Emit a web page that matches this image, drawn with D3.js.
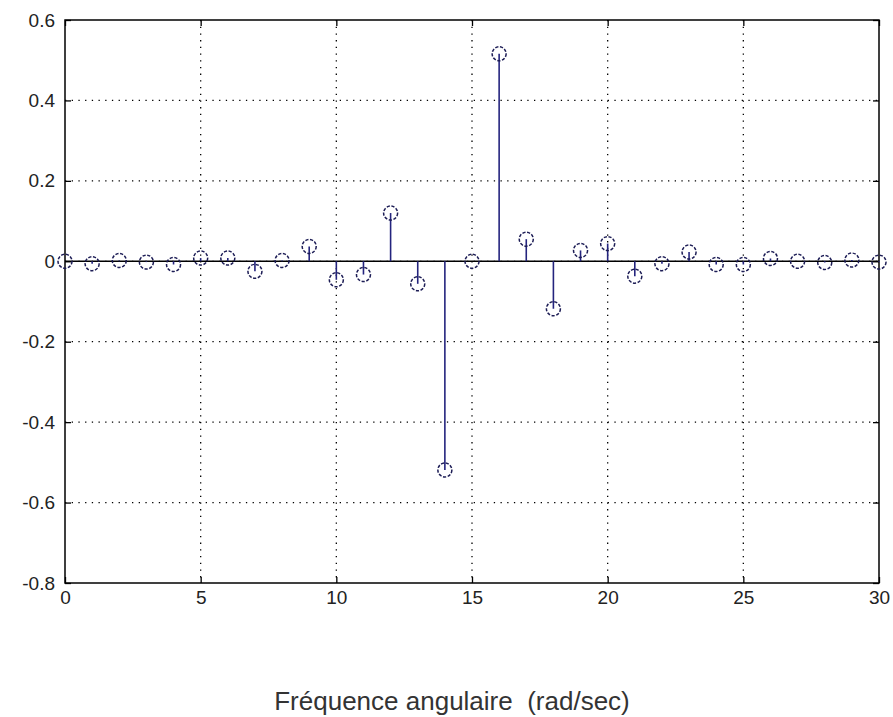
<!DOCTYPE html>
<html>
<head>
<meta charset="utf-8">
<script src="https://cdn.jsdelivr.net/npm/d3@7"></script>
<style>
  html, body { margin: 0; padding: 0; background: #fff; }
  svg { display: block; }
</style>
</head>
<body>
<div id="chart"></div>
<script>
// Données (stem, n = 0..30)
const frequences = d3.range(0, 31);
const amplitudes = [
  0.000, -0.006, 0.002, -0.002, -0.008, 0.008, 0.008, -0.025, 0.002, 0.037,
  -0.046, -0.033, 0.120, -0.056, -0.519, 0.000, 0.516, 0.055, -0.118, 0.027,
  0.044, -0.037, -0.006, 0.023, -0.008, -0.008, 0.007, 0.000, -0.003, 0.003,
  -0.002
];
const xTicks = [0, 5, 10, 15, 20, 25, 30];
const yTicks = [0.6, 0.4, 0.2, 0, -0.2, -0.4, -0.6, -0.8];
const xLabel = "Fréquence angulaire  (rad/sec)";

// --- Dimensions ---
const width = 893, height = 717;
const margin = { top: 20, right: 14, bottom: 134, left: 65 };
const plotW = width - margin.left - margin.right;
const plotH = height - margin.top - margin.bottom;

const x = d3.scaleLinear().domain([0, 30]).range([0, plotW]);
const y = d3.scaleLinear().domain([-0.8, 0.6]).range([plotH, 0]);

const svg = d3.select("#chart").append("svg")
  .attr("width", width)
  .attr("height", height);

const g = svg.append("g")
  .attr("transform", `translate(${margin.left},${margin.top})`);

// --- Grille pointillée ---
g.selectAll(".vgrid")
  .data(xTicks.filter(d => d > 0 && d < 30))
  .enter().append("line")
  .attr("x1", d => x(d)).attr("x2", d => x(d))
  .attr("y1", 0).attr("y2", plotH)
  .attr("stroke", "#000")
  .attr("stroke-width", 1.3)
  .attr("stroke-dasharray", "1.3,5.4");

g.selectAll(".hgrid")
  .data(yTicks.filter(d => d < 0.6 && d > -0.8))
  .enter().append("line")
  .attr("x1", 0).attr("x2", plotW)
  .attr("y1", d => y(d)).attr("y2", d => y(d))
  .attr("stroke", "#000")
  .attr("stroke-width", 1.3)
  .attr("stroke-dasharray", "1.3,5.4");

// --- Axes (ticks intérieurs, style MATLAB) ---
const tickLen = 6;
const axisFont = "'Liberation Sans', Arial, sans-serif";

const xAxisB = g.append("g")
  .attr("transform", `translate(0,${plotH})`)
  .call(d3.axisBottom(x).tickValues(xTicks).tickSizeInner(-tickLen).tickSizeOuter(0).tickPadding(11));
const xAxisT = g.append("g")
  .call(d3.axisTop(x).tickValues(xTicks).tickSizeInner(-tickLen).tickSizeOuter(0).tickFormat(""));
const yAxisL = g.append("g")
  .call(d3.axisLeft(y).tickValues(yTicks).tickSizeInner(-tickLen).tickSizeOuter(0).tickPadding(10)
    .tickFormat(d => String(+d.toFixed(1))));
const yAxisR = g.append("g")
  .attr("transform", `translate(${plotW},0)`)
  .call(d3.axisRight(y).tickValues(yTicks).tickSizeInner(-tickLen).tickSizeOuter(0).tickFormat(""));

[xAxisB, xAxisT, yAxisL, yAxisR].forEach(a => {
  a.select(".domain").remove();
  a.selectAll(".tick line").attr("stroke", "#000").attr("stroke-width", 1.3);
  a.selectAll("text")
    .attr("fill", "#222")
    .style("font-family", axisFont)
    .style("font-size", "19px");
});
xAxisB.selectAll("text").attr("dy", "0.55em");

// Cadre
g.append("rect")
  .attr("x", 0).attr("y", 0)
  .attr("width", plotW).attr("height", plotH)
  .attr("fill", "none")
  .attr("stroke", "#000")
  .attr("stroke-width", 1.5);

// Ligne de base y = 0
g.append("line")
  .attr("x1", x(0)).attr("x2", x(30))
  .attr("y1", y(0)).attr("y2", y(0))
  .attr("stroke", "#000")
  .attr("stroke-width", 1.5);

// --- Stem ---
const pts = frequences.map((f, i) => ({ f, v: amplitudes[i] }));

g.selectAll(".stem")
  .data(pts)
  .enter().append("line")
  .attr("class", "stem")
  .attr("x1", d => x(d.f)).attr("x2", d => x(d.f))
  .attr("y1", y(0)).attr("y2", d => y(d.v))
  .attr("stroke", "#24247e")
  .attr("stroke-width", 1.6);

g.selectAll(".marker")
  .data(pts)
  .enter().append("circle")
  .attr("class", "marker")
  .attr("cx", d => x(d.f))
  .attr("cy", d => y(d.v))
  .attr("r", 7)
  .attr("fill", "none")
  .attr("stroke", "#1c1c55")
  .attr("stroke-width", 1.5)
  .attr("stroke-dasharray", "3.2,1.6");

// Titre de l'axe x
svg.append("text")
  .attr("x", 452)
  .attr("y", 710)
  .attr("text-anchor", "middle")
  .attr("fill", "#333")
  .style("font-family", axisFont)
  .style("font-size", "26px")
  .style("white-space", "pre")
  .text(xLabel);
</script>
</body>
</html>
